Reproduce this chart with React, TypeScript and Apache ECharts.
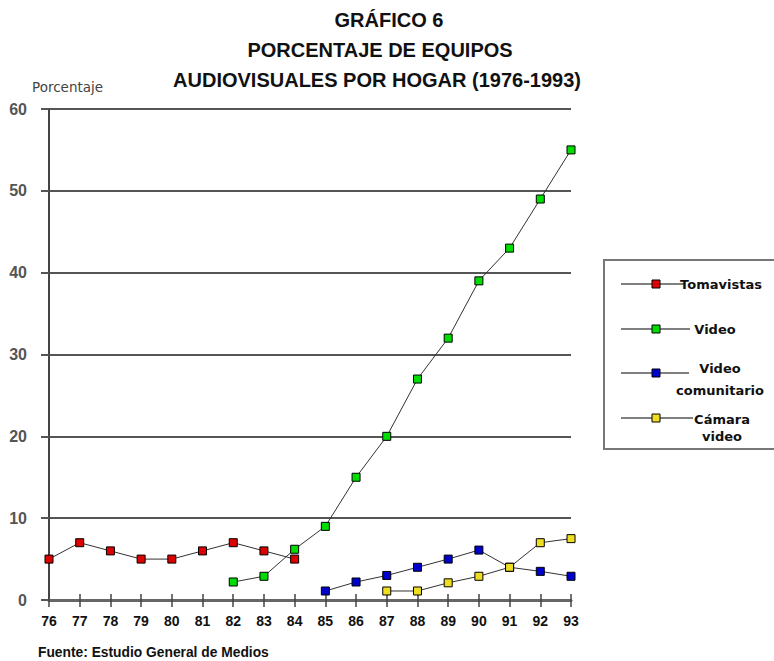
import React, { useEffect, useRef } from "react";
import * as echarts from "echarts";

const years = ["76", "77", "78", "79", "80", "81", "82", "83", "84", "85", "86", "87", "88", "89", "90", "91", "92", "93"];

const tomavistas = [5, 7, 6, 5, 5, 6, 7, 6, 5, null, null, null, null, null, null, null, null, null];
const video = [null, null, null, null, null, null, 2.2, 2.9, 6.2, 9, 15, 20, 27, 32, 39, 43, 49, 55];
const videoComunitario = [null, null, null, null, null, null, null, null, null, 1.1, 2.2, 3, 4, 5, 6.1, 4, 3.5, 2.9];
const camaraVideo = [null, null, null, null, null, null, null, null, null, null, null, 1.1, 1.1, 2.1, 2.9, 4, 7, 7.5];

const seriesNames = ["Tomavistas", "Video", "Video comunitario", "Cámara video"];
const legendLabels = [["Tomavistas"], ["Video"], ["Video", "comunitario"], ["Cámara", "video"]];
const seriesColors = ["#dd0000", "#00dd00", "#0000cc", "#eedd22"];

const titleLines = ["GRÁFICO 6", "PORCENTAJE DE EQUIPOS", "AUDIOVISUALES POR HOGAR (1976-1993)"];
const yAxisName = "Porcentaje";
const sourceNote = "Fuente: Estudio General de Medios";

export default function App() {
  const ref = useRef<HTMLDivElement>(null);

  useEffect(() => {
    if (!ref.current) return;
    const chart = echarts.init(ref.current, null, { renderer: "svg" });
    const allData = [tomavistas, video, videoComunitario, camaraVideo];

    const titleCenters = [[389, 20], [380, 50], [377, 80]];
    const titleGraphics = titleLines.map((t, i) => ({
      type: "text",
      x: titleCenters[i][0],
      y: titleCenters[i][1],
      style: {
        text: t,
        fill: "#111",
        font: "bold 20px 'Liberation Sans', Arial, sans-serif",
        textAlign: "center",
        textVerticalAlign: "middle",
      },
    }));

    // legend layout
    const legendY = [284, 329, 373, 418];
    const legendLineEnd = [684, 690, 689, 693];
    const legendTextX = [721, 715, 720, 722];
    const legendTextY = [[284], [329], [368, 390], [419, 436]];
    const legendGraphics: any[] = [
      {
        type: "rect",
        shape: { x: 604, y: 260, width: 180, height: 189 },
        style: { fill: "#fff", stroke: "#777", lineWidth: 2 },
      },
    ];
    seriesNames.forEach((name, i) => {
      legendGraphics.push({
        type: "line",
        shape: { x1: 621, y1: legendY[i], x2: legendLineEnd[i], y2: legendY[i] },
        style: { stroke: "#000", lineWidth: 1 },
      });
      legendGraphics.push({
        type: "rect",
        shape: { x: 652, y: legendY[i] - 4, width: 8, height: 8 },
        style: { fill: seriesColors[i], stroke: "#000", lineWidth: 1 },
      });
      legendLabels[i].forEach((line, j) => {
        legendGraphics.push({
          type: "text",
          x: legendTextX[i],
          y: legendTextY[i][j],
          style: {
            text: line,
            fill: "#111",
            font: "bold 13px 'DejaVu Sans', sans-serif",
            textAlign: "center",
            textVerticalAlign: "middle",
          },
        });
      });
    });

    chart.setOption({
      animation: false,
      backgroundColor: "#fff",
      grid: { left: 49, right: 203, top: 109, bottom: 61, containLabel: false, outerBoundsMode: "none" },
      xAxis: [
        {
          type: "category",
          position: "bottom",
          data: years,
          boundaryGap: false,
          axisLine: { show: true, lineStyle: { color: "#666", width: 3 } },
          axisTick: { show: true, length: 7, lineStyle: { color: "#444", width: 1.5 } },
          axisLabel: {
            color: "#111",
            fontSize: 14,
            fontWeight: "bold",
            fontFamily: "'Liberation Sans', Arial, sans-serif",
            margin: 14,
            interval: 0,
          },
          splitLine: { show: false },
        },
        {
          type: "category",
          position: "bottom",
          data: years,
          boundaryGap: false,
          axisLine: { show: false },
          axisTick: { show: true, inside: true, length: 6, lineStyle: { color: "#444", width: 1.5 } },
          axisLabel: { show: false },
          splitLine: { show: false },
        },
      ],
      yAxis: {
        type: "value",
        min: 0,
        max: 60,
        interval: 10,
        axisLine: { show: true, lineStyle: { color: "#444", width: 2 } },
        axisTick: { show: true, length: 8, lineStyle: { color: "#555", width: 2 } },
        axisLabel: {
          color: "#555",
          fontSize: 16,
          fontWeight: "bold",
          fontFamily: "'Liberation Sans', Arial, sans-serif",
          margin: 22,
        },
        splitLine: { show: true, lineStyle: { color: "#555", width: 2 } },
      },
      graphic: [
        ...titleGraphics,
        {
          type: "text",
          x: 32,
          y: 87,
          style: {
            text: yAxisName,
            fill: "#444",
            font: "13.5px 'DejaVu Sans', sans-serif",
            textVerticalAlign: "middle",
          },
        },
        {
          type: "text",
          x: 38,
          y: 652,
          style: {
            text: sourceNote,
            fill: "#111",
            font: "bold 13.8px 'Liberation Sans', Arial, sans-serif",
            textVerticalAlign: "middle",
          },
        },
        ...legendGraphics,
      ],
      series: seriesNames.map((name, i) => ({
        name,
        type: "line",
        data: allData[i],
        symbol: "rect",
        symbolSize: 8,
        connectNulls: false,
        z: i === 0 ? 5 : 3,
        lineStyle: { color: "#333", width: 1 },
        itemStyle: { color: seriesColors[i], borderColor: "#000", borderWidth: 1 },
        emphasis: { disabled: true },
      })),
    });

    return () => chart.dispose();
  }, []);

  return (
    <div
      ref={ref}
      style={{ position: "absolute", left: 0, top: 0, width: 774, height: 661 }}
    />
  );
}
